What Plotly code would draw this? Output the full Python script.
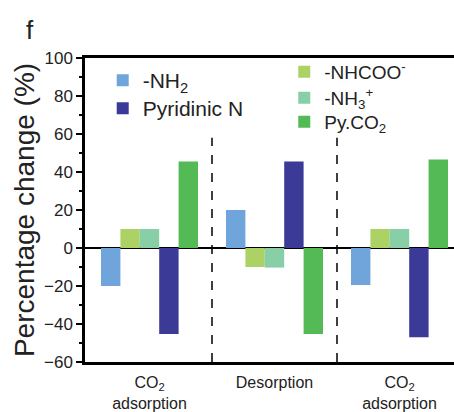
import plotly.graph_objects as go

categories = ["CO<sub>2</sub><br>adsorption", "Desorption", "CO<sub>2</sub><br>adsorption"]
series_names = ["-NH<sub>2</sub>", "-NHCOO<sup>-</sup>", "-NH<sub>3</sub><sup>+</sup>", "Pyridinic N", "Py.CO<sub>2</sub>"]
nh2 = [-20, 20, -19.5]
nhcoo = [10, -10, 10]
nh3 = [10, -10.3, 10]
pyridinic_n = [-45.3, 45.5, -47]
py_co2 = [45.5, -45.3, 46.6]
colors = ["#6fa5da", "#acd266", "#88cea6", "#3b3a97", "#54ba56"]
legend_ids = ["legend", "legend2", "legend3", "legend4", "legend5"]

series_values = [nh2, nhcoo, nh3, pyridinic_n, py_co2]
xpos = list(range(len(categories)))

fig = go.Figure()
for name, vals, col, lg in zip(series_names, series_values, colors, legend_ids):
    fig.add_trace(go.Bar(x=xpos, y=vals, name=name, marker=dict(color=col, line=dict(width=0)),
                         legend=lg))

font_family = "Liberation Sans, Arial, sans-serif"
# legend placement (x paper, y paper, font size) for each item
legend_places = {
    "legend": (0.048, 0.9934, 21),
    "legend4": (0.048, 0.9013, 21),
    "legend2": (0.54, 1.0164, 19),
    "legend3": (0.54, 0.931, 19),
    "legend5": (0.54, 0.852, 19),
}
legend_layout = {}
for lid, (lx, ly, fs) in legend_places.items():
    legend_layout[lid] = dict(x=lx, y=ly, xanchor="left", yanchor="top", font=dict(size=fs),
                              bgcolor="rgba(0,0,0,0)", itemclick=False)

fig.update_layout(
    width=454, height=412,
    margin=dict(l=85, r=0, t=58, b=50),
    paper_bgcolor="white", plot_bgcolor="white",
    barmode="group", bargap=0.224, bargroupgap=0,
    font=dict(family=font_family, color="#222222", size=17),
    showlegend=True,
    **legend_layout,
)
fig.update_xaxes(
    range=[-0.516, -0.516 + 369 / 125], tickvals=xpos, ticktext=categories,
    showline=True, linecolor="black", linewidth=2.5, mirror=True,
    ticks="", showgrid=False, zeroline=False, tickfont=dict(size=16),
    ticklabelstandoff=4,
)
fig.update_yaxes(
    range=[-60, 100], dtick=20, tick0=0,
    showline=True, linecolor="black", linewidth=2.5,
    ticks="outside", ticklen=6, tickwidth=2, tickcolor="black",
    minor=dict(dtick=10, ticks="outside", ticklen=3, tickwidth=2, tickcolor="black"),
    showgrid=False, zeroline=True, zerolinecolor="black", zerolinewidth=1.5,
    tickfont=dict(size=17),
    title=dict(text="Percentage change (%)", font=dict(size=28), standoff=2),
)
for xd in [0.5, 1.5]:
    fig.add_shape(type="line", xref="x", yref="y", x0=xd, x1=xd, y0=-60, y1=58,
                  line=dict(color="black", width=1.5, dash="dash"))
fig.add_annotation(text="f", xref="paper", yref="paper", x=(30 - 85) / 369, y=1 + (58 - 30) / 304,
                   showarrow=False, font=dict(size=26, color="#222222"), xanchor="center", yanchor="middle")

fig.write_html("out.html")
